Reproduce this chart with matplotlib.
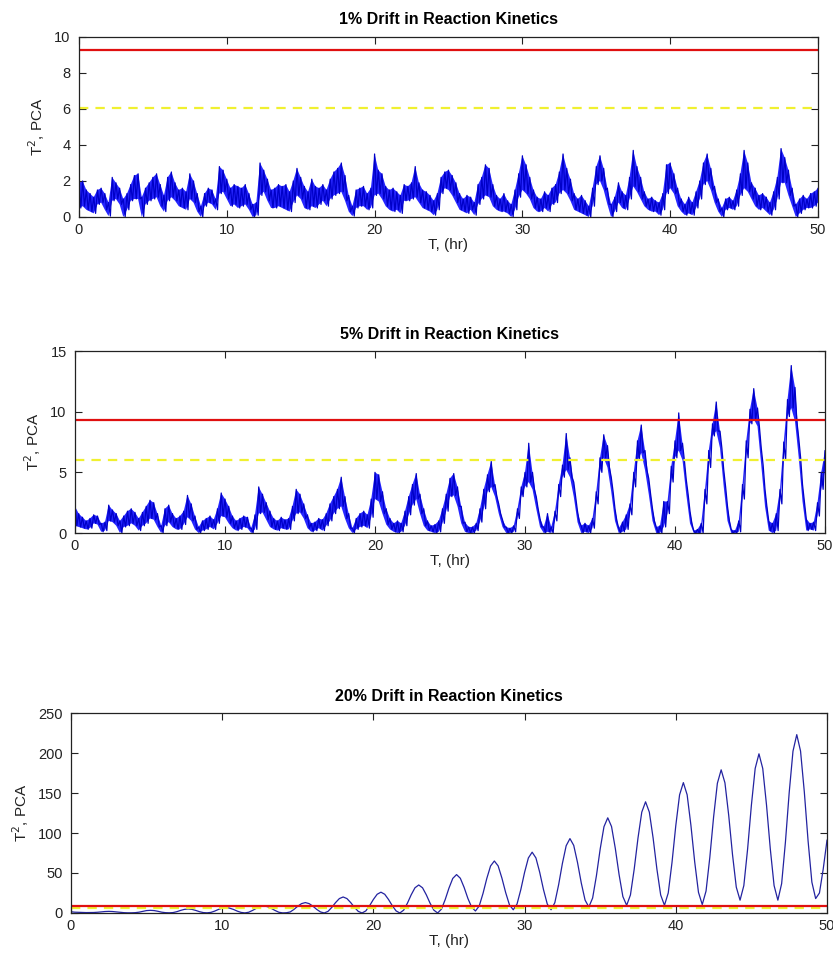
# T2 (PCA) monitoring charts for 1%, 5% and 20% drift in reaction kinetics
import numpy as np
import matplotlib
matplotlib.use("Agg")
import matplotlib.pyplot as plt

plt.rcParams['font.family'] = ['Liberation Sans', 'DejaVu Sans']

# === data (0.25 hr sampling) ===
t = np.linspace(0, 50, 201)

# 1% drift: upper / lower envelope of the noisy T2 trace
hi_1 = [1.9, 2.0, 1.5, 1.3, 1.1, 1.5, 1.6, 1.3, 0.8, 2.2,
        1.9, 1.6, 1.0, 1.3, 1.8, 2.3, 2.4, 1.1, 1.6, 1.9,
        2.2, 2.4, 1.8, 1.2, 2.2, 2.5, 1.9, 1.5, 1.6, 1.4,
        2.4, 2.0, 1.3, 0.6, 1.3, 1.6, 1.5, 1.0, 2.8, 2.6,
        2.1, 1.6, 1.8, 1.7, 1.6, 1.8, 1.3, 0.7, 0.8, 3.0,
        2.6, 2.1, 1.5, 1.6, 1.8, 1.7, 1.8, 1.4, 2.0, 2.7,
        2.2, 1.7, 1.4, 2.1, 1.7, 1.6, 1.8, 1.5, 2.1, 2.5,
        2.7, 3.0, 2.3, 1.2, 0.6, 1.5, 1.6, 1.7, 1.3, 1.6,
        3.5, 2.6, 2.4, 1.7, 1.5, 1.6, 1.4, 1.2, 1.8, 1.7,
        1.9, 2.8, 1.9, 1.5, 1.4, 1.2, 0.9, 1.3, 2.2, 2.5,
        2.6, 2.3, 1.9, 1.3, 1.0, 1.2, 1.1, 0.8, 1.8, 2.2,
        2.9, 2.7, 1.8, 1.2, 1.0, 1.3, 0.9, 0.7, 1.5, 2.4,
        3.4, 2.9, 2.2, 1.5, 1.1, 1.0, 1.4, 1.2, 1.6, 1.8,
        2.5, 3.5, 2.7, 2.1, 1.3, 1.0, 1.2, 0.9, 0.6, 1.6,
        2.8, 3.4, 2.7, 1.6, 0.7, 1.1, 1.9, 1.4, 1.2, 2.2,
        3.7, 2.8, 2.2, 1.4, 1.0, 1.1, 0.9, 0.8, 1.3, 2.9,
        3.0, 2.4, 1.6, 1.0, 0.7, 1.1, 0.8, 1.4, 2.0, 3.0,
        3.5, 2.7, 1.7, 1.0, 0.5, 1.0, 1.1, 0.9, 1.5, 2.4,
        3.7, 3.0, 1.9, 1.6, 1.2, 1.3, 1.1, 0.8, 1.4, 2.2,
        3.8, 3.3, 2.6, 1.6, 0.7, 1.0, 1.2, 1.0, 1.3, 1.4,
        1.6]
lo_1 = [0.5, 0.6, 0.4, 0.3, 0.2, 0.7, 0.8, 0.4, 0.05, 0.9,
        1.0, 0.7, 0.0, 0.4, 0.9, 1.0, 1.0, 0.0, 0.7, 0.9,
        1.0, 1.1, 0.6, 0.3, 0.9, 1.1, 0.9, 0.6, 0.5, 0.4,
        1.0, 0.8, 0.3, 0.0, 0.6, 0.8, 0.7, 0.4, 1.3, 1.4,
        1.0, 0.6, 0.7, 0.5, 0.6, 0.7, 0.4, 0.0, 0.1, 1.2,
        1.4, 0.9, 0.5, 0.5, 0.6, 0.5, 0.4, 0.3, 0.8, 1.2,
        1.0, 0.5, 0.4, 0.6, 0.5, 0.7, 0.9, 0.6, 1.0, 1.2,
        1.3, 1.4, 0.9, 0.3, 0.05, 0.5, 0.6, 0.6, 0.4, 0.5,
        1.2, 1.3, 1.0, 0.6, 0.4, 0.3, 0.4, 0.2, 0.9, 0.9,
        1.0, 1.1, 0.8, 0.5, 0.4, 0.3, 0.1, 0.4, 1.3, 1.6,
        1.5, 1.2, 0.8, 0.4, 0.3, 0.2, 0.4, 0.1, 0.7, 1.0,
        1.2, 1.1, 0.6, 0.4, 0.3, 0.3, 0.2, 0.0, 0.4, 1.1,
        1.5, 1.3, 1.0, 0.5, 0.3, 0.3, 0.5, 0.3, 0.7, 0.8,
        1.3, 1.5, 1.3, 0.9, 0.4, 0.3, 0.2, 0.1, 0.0, 0.6,
        1.8, 2.0, 1.5, 0.7, 0.0, 0.3, 0.8, 0.5, 0.4, 1.0,
        1.7, 1.4, 1.0, 0.6, 0.4, 0.3, 0.3, 0.1, 0.4, 1.3,
        1.6, 1.3, 0.6, 0.3, 0.1, 0.2, 0.1, 0.5, 1.0, 1.8,
        2.0, 1.5, 0.8, 0.3, 0.0, 0.4, 0.5, 0.4, 0.6, 1.2,
        1.6, 1.4, 1.0, 0.6, 0.4, 0.5, 0.3, 0.1, 0.4, 1.0,
        1.9, 1.9, 1.2, 0.6, 0.0, 0.2, 0.4, 0.5, 0.5, 0.6,
        0.8]

# 5% drift
hi_5 = [2.2, 1.6, 1.3, 1.0, 1.2, 1.5, 1.4, 0.8, 0.9, 2.3,
        1.9, 1.6, 1.0, 1.4, 1.8, 2.0, 1.7, 1.2, 1.7, 2.2,
        2.7, 2.5, 1.6, 0.6, 2.0, 2.3, 1.6, 1.2, 1.4, 1.8,
        3.1, 2.4, 1.4, 0.5, 1.0, 1.2, 1.4, 1.1, 2.0, 3.3,
        2.8, 2.2, 1.4, 1.0, 1.2, 1.4, 1.3, 0.4, 1.5, 3.8,
        3.2, 2.5, 1.8, 1.2, 1.0, 1.3, 1.1, 1.2, 2.2, 3.6,
        3.2, 2.4, 1.5, 0.8, 0.9, 1.2, 1.1, 1.6, 2.4, 3.0,
        3.6, 4.6, 3.0, 1.6, 0.4, 1.2, 1.6, 1.8, 1.5, 2.8,
        5.0, 4.8, 3.4, 2.0, 1.2, 0.8, 1.0, 0.8, 1.8, 3.0,
        4.0, 4.9, 3.2, 2.0, 1.0, 0.6, 0.7, 1.0, 2.0, 3.2,
        4.5, 4.9, 3.8, 2.2, 0.9, 0.5, 0.5, 0.8, 2.0, 3.6,
        4.8, 5.9, 4.0, 2.4, 1.1, 0.5, 0.4, 0.6, 2.0, 3.8,
        5.0, 7.4, 5.0, 3.0, 1.2, 0.5, 1.6, 0.5, 1.8, 4.0,
        5.6, 8.2, 6.2, 4.2, 1.8, 0.6, 0.8, 0.6, 1.2, 3.4,
        6.2, 8.1, 7.2, 4.6, 2.0, 0.4, 0.9, 1.5, 2.4, 5.0,
        7.6, 8.9, 6.8, 4.5, 2.0, 0.5, 0.6, 2.6, 2.6, 5.5,
        7.6, 9.9, 7.4, 4.4, 1.8, 0.2, 0.3, 0.8, 3.6, 6.8,
        9.0, 10.8, 8.4, 5.2, 2.2, 0.3, 0.2, 1.0, 4.0, 7.6,
        10.2, 11.9, 10.3, 7.0, 3.6, 1.0, 0.8, 1.6, 3.6, 7.5,
        11.0, 13.8, 12.0, 7.8, 4.0, 1.2, 0.8, 0.9, 2.5, 5.0,
        6.8]
lo_5 = [0.6, 0.5, 0.4, 0.3, 0.4, 0.8, 0.7, 0.1, 0.2, 1.0,
        0.9, 0.6, 0.0, 0.5, 0.6, 0.8, 0.6, 0.2, 0.6, 0.8,
        1.2, 1.1, 0.5, 0.0, 0.6, 0.9, 0.5, 0.3, 0.3, 0.7,
        1.3, 1.0, 0.3, 0.0, 0.2, 0.3, 0.5, 0.3, 0.8, 1.4,
        1.3, 0.8, 0.4, 0.2, 0.3, 0.5, 0.4, 0.0, 0.3, 1.6,
        1.7, 1.1, 0.5, 0.3, 0.2, 0.4, 0.3, 0.3, 1.0, 1.6,
        1.7, 1.2, 0.4, 0.1, 0.2, 0.4, 0.2, 0.6, 1.0, 1.6,
        2.0, 2.2, 1.2, 0.4, 0.0, 0.3, 0.5, 0.6, 0.4, 1.3,
        2.8, 2.6, 1.6, 0.7, 0.3, 0.1, 0.0, 0.1, 0.6, 1.5,
        2.3, 2.8, 1.6, 0.6, 0.2, 0.1, 0.0, 0.1, 0.8, 1.8,
        3.0, 3.1, 2.2, 0.8, 0.1, 0.0, 0.0, 0.2, 0.9, 2.0,
        3.4, 3.8, 3.0, 1.6, 0.5, 0.0, 0.0, 0.1, 1.2, 3.0,
        3.8, 4.2, 3.6, 2.0, 0.5, 0.0, 0.1, 0.0, 1.0, 3.0,
        4.6, 5.2, 4.6, 3.0, 0.9, 0.0, 0.1, 0.0, 0.4, 2.4,
        5.0, 6.2, 5.4, 3.4, 1.0, 0.0, 0.1, 0.3, 1.5, 3.8,
        6.0, 6.6, 5.2, 3.2, 1.0, 0.0, 0.0, 0.5, 1.6, 4.2,
        6.2, 6.8, 6.0, 3.2, 0.8, 0.0, 0.0, 0.0, 2.4, 5.4,
        8.0, 8.4, 7.0, 3.8, 1.0, 0.0, 0.0, 0.1, 2.8, 6.2,
        9.0, 9.4, 8.8, 5.6, 2.2, 0.2, 0.0, 0.2, 2.4, 6.0,
        9.6, 10.3, 9.2, 6.2, 2.6, 0.2, 0.3, 0.2, 1.4, 3.6,
        5.2]

# 20% drift: smooth trace
t2_20 = [1.5, 1.0, 0.8, 0.6, 0.5, 0.5, 0.6, 0.9, 1.4, 1.8,
         2.0, 1.8, 1.3, 0.8, 0.4, 0.2, 0.2, 0.4, 1.0, 2.0,
         3.0, 3.3, 3.0, 2.1, 1.0, 0.4, 0.2, 0.5, 1.6, 3.2,
         4.5, 5.0, 4.5, 3.2, 1.6, 0.5, 0.2, 0.7, 2.3, 4.4,
         6.0, 6.7, 6.0, 4.4, 2.3, 0.7, 0.1, 0.9, 3.1, 5.7,
         7.9, 8.8, 7.9, 5.7, 3.1, 0.9, 0.1, 0.3, 1.3, 4.5,
         8.5, 11.7, 13.0, 11.7, 8.5, 4.5, 1.3, 0.0, 2.0, 7.0,
         13.0, 18.0, 20.0, 18.0, 13.0, 7.0, 2.0, 0.0, 2.6, 9.1,
         16.9, 23.4, 26.0, 23.4, 16.9, 9.1, 2.6, 0.0, 3.5, 12.2,
         22.7, 31.5, 35.0, 31.5, 22.7, 12.2, 3.5, 0.0, 4.8, 16.8,
         31.2, 43.2, 48.0, 43.4, 32.0, 18.2, 7.2, 2.5, 8.8, 24.4,
         43.1, 58.8, 65.0, 58.9, 43.6, 25.4, 10.1, 4.0, 11.2, 29.2,
         50.8, 68.8, 76.0, 68.8, 50.8, 29.2, 11.2, 4.0, 12.9, 35.2,
         61.9, 84.1, 93.0, 84.5, 63.1, 37.4, 16.1, 7.5, 18.7, 46.5,
         80.0, 107.9, 119.0, 108.1, 80.7, 47.9, 20.5, 9.6, 22.5, 54.9,
         93.7, 126.1, 139.0, 126.1, 93.7, 54.9, 22.5, 9.6, 25.0, 63.3,
         109.3, 147.7, 163.0, 147.8, 109.6, 63.9, 25.8, 10.5, 27.4, 69.5,
         120.0, 162.2, 179.0, 162.7, 122.0, 73.1, 32.3, 16.0, 34.3, 80.1,
         134.9, 180.7, 199.0, 180.7, 134.9, 80.1, 34.3, 16.0, 36.7, 88.5,
         150.6, 202.3, 223.0, 202.5, 151.3, 89.8, 38.5, 18.0, 25.0, 55.0,
         91.0]

limit_99 = 9.3   # red control limit
limit_95 = 6.05  # yellow dashed limit

titles = ["1% Drift in Reaction Kinetics",
          "5% Drift in Reaction Kinetics",
          "20% Drift in Reaction Kinetics"]
ylims = [(0, 10), (0, 15), (0, 250)]
yticks = [[0, 2, 4, 6, 8, 10], [0, 5, 10, 15], [0, 50, 100, 150, 200, 250]]
xticks = [0, 10, 20, 30, 40, 50]

# axes boxes in figure fractions [left, bottom, width, height]
boxes = [[0.0948, 0.7735, 0.8872, 0.1879],
         [0.0900, 0.4436, 0.9004, 0.1900],
         [0.0852, 0.0470, 0.9076, 0.2087]]
title_pads = [9, 8.5, 8.5]


def zigzag(hi, lo):
    # noisy trace drawn as a saw-tooth between the envelope values
    xs = np.column_stack([t, t + 0.125]).ravel()
    ys = np.column_stack([hi, lo]).ravel()
    return xs, ys


fig = plt.figure(figsize=(8.33, 9.58), dpi=100)

for i in range(3):
    ax = fig.add_axes(boxes[i])
    if i < 2:
        hi, lo = (hi_1, lo_1) if i == 0 else (hi_5, lo_5)
        xs, ys = zigzag(hi, lo)
        ax.fill_between(t, lo, hi, facecolor='#0000ff', edgecolor='none', alpha=0.85)
        ax.plot(xs, ys, color='#0000c8', linewidth=0.9)
    else:
        ax.plot(t, t2_20, color='#2323a0', linewidth=0.9)
    ax.axhline(limit_95, color='#f0f030', linestyle=(0, (4.2, 3.2)), linewidth=1.6)
    ax.axhline(limit_99, color='#e01010', linewidth=1.6)

    ax.set_xlim(0, 50)
    ax.set_ylim(*ylims[i])
    ax.set_xticks(xticks)
    ax.set_yticks(yticks[i])
    ax.tick_params(direction='in', top=True, right=True, length=5, width=0.8,
                   labelsize=10.5, colors='#222222', pad=4)
    ax.tick_params(axis='y', pad=6)
    for s in ax.spines.values():
        s.set_linewidth(0.9)
        s.set_color('#222222')
    ax.set_title(titles[i], fontsize=11.5, fontweight='bold', pad=title_pads[i])
    ax.set_xlabel("T, (hr)", fontsize=11, color='#222222', labelpad=1)
    ax.set_ylabel("T$^2$, PCA", fontsize=11, color='#222222', labelpad=5)

fig.savefig("out.png", dpi=100)
